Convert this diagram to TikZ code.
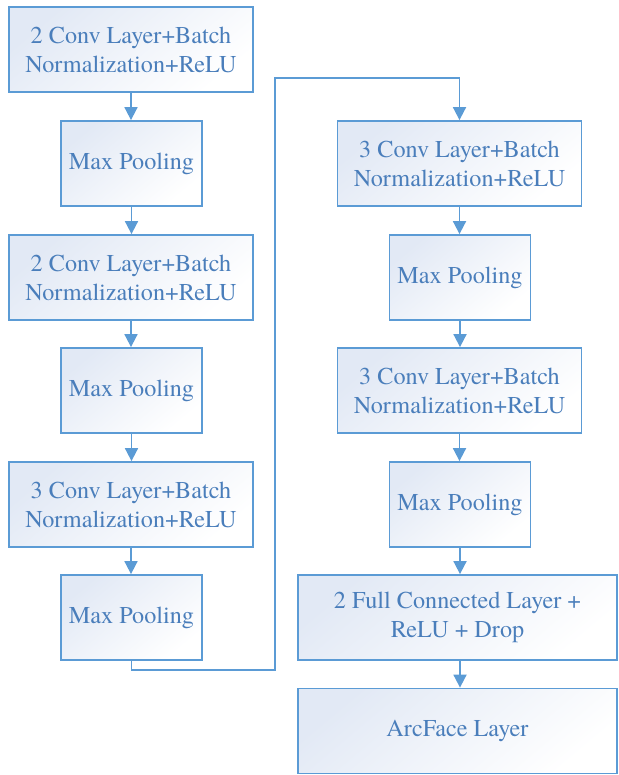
\documentclass[tikz,border=0pt]{standalone}
\usepackage{fontspec}
\setmainfont{TeX Gyre Termes}
\usetikzlibrary{arrows.meta}
\definecolor{bordc}{HTML}{5B9BD5}
\definecolor{txtc}{HTML}{4A7EBB}
\definecolor{fillc}{HTML}{E2E9F5}
\begin{document}
\begin{tikzpicture}[x=1pt,y=1pt,
  box/.style={draw=bordc, line width=1.8pt, shading=axis, top color=fillc, bottom color=white, shading angle=40,
    minimum height=85pt, inner sep=0pt, align=center, text=txtc,
    font=\fontsize{24.2}{29}\selectfont},
  wide/.style={box, minimum width=244pt},
  narrow/.style={box, minimum width=141pt},
  huge/.style={box, minimum width=319pt},
  conn/.style={draw=bordc, line width=1.8pt, -{Triangle[width=13pt,length=13pt]}}]
\useasboundingbox (0,0) rectangle (618,-775);
\node[wide]   (l1) at (131,-49.5)  {2 Conv Layer+Batch\\Normalization+ReLU};
\node[narrow] (l2) at (131.5,-163.5) {Max Pooling};
\node[wide]   (l3) at (131,-277.5) {2 Conv Layer+Batch\\Normalization+ReLU};
\node[narrow] (l4) at (131.5,-390.5) {Max Pooling};
\node[wide]   (l5) at (131,-504.5) {3 Conv Layer+Batch\\Normalization+ReLU};
\node[narrow] (l6) at (131.5,-617.5) {Max Pooling};
\node[wide]   (r1) at (459.5,-163.5) {3 Conv Layer+Batch\\Normalization+ReLU};
\node[narrow] (r2) at (460,-277.5) {Max Pooling};
\node[wide]   (r3) at (459.5,-390.5) {3 Conv Layer+Batch\\Normalization+ReLU};
\node[narrow] (r4) at (460,-504.5) {Max Pooling};
\node[huge]   (r5) at (457.5,-617.5) {2 Full Connected Layer +\\ReLU + Drop};
\node[huge]   (r6) at (457.5,-731) {ArcFace Layer};
\coordinate (c1) at (275,-670);
\coordinate (c2) at (275,-78);
\draw[conn] (l1) -- (l1 |- l2.north);
\draw[conn] (l2) -- (l2 |- l3.north);
\draw[conn] (l3) -- (l3 |- l4.north);
\draw[conn] (l4) -- (l4 |- l5.north);
\draw[conn] (l5) -- (l5 |- l6.north);
\draw[conn] (l6.south) |- (c1) -- (c2) -| (r1.north);
\draw[conn] (r1) -- (r1 |- r2.north);
\draw[conn] (r2) -- (r2 |- r3.north);
\draw[conn] (r3) -- (r3 |- r4.north);
\draw[conn] (r4) -- (r4 |- r5.north);
\draw[conn] (r4 |- r5.south) -- (r4 |- r6.north);
\end{tikzpicture}
\end{document}
